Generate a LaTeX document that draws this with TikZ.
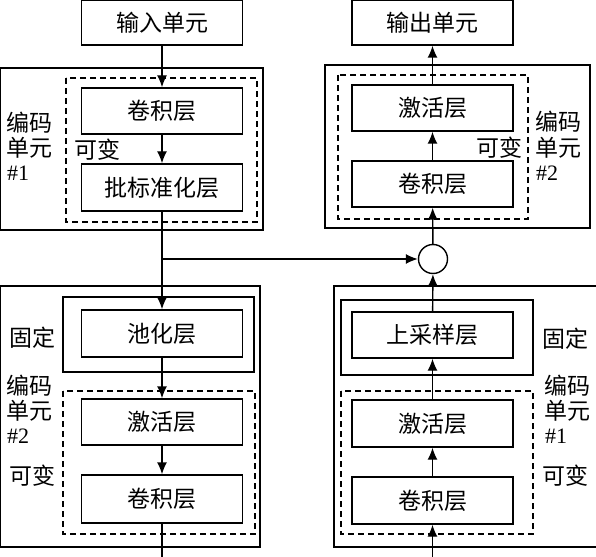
\documentclass[tikz,border=0pt]{standalone}
\usepackage{fontspec}
\setmainfont{Liberation Serif}
\newfontfamily\cjk{Noto Sans CJK SC}
\usetikzlibrary{arrows.meta}
\tikzset{
  layer/.style={draw, line width=1.4pt, minimum width=161pt, inner sep=0pt, font=\cjk\fontsize{23}{26}\selectfont},
  frame/.style={draw, line width=1.4pt},
  dframe/.style={draw, line width=1.4pt, dash pattern=on 6pt off 4pt},
  lbl/.style={inner sep=0pt, font=\cjk\fontsize{23}{26}\selectfont},
  num/.style={inner sep=0pt, font=\fontsize{22}{26}\selectfont},
  arr/.style={line width=1.4pt, -{Latex[length=12pt,width=10pt]}},
  ln/.style={line width=1.4pt},
  sumc/.style={draw, circle, line width=1.4pt, minimum size=29pt, inner sep=0pt}
}
\begin{document}
\begin{tikzpicture}[x=1pt,y=-1pt]
\useasboundingbox (0,0) rectangle (596,556);
% frames
\draw[frame] (0,68) rectangle (263,230);
\draw[dframe] (66,78) rectangle (257,222);
\draw[frame] (325,65) rectangle (590,228);
\draw[dframe] (338,75) rectangle (528,219);
\draw[frame] (0,286) rectangle (260,547);
\draw[frame] (63,297) rectangle (254,372);
\draw[dframe] (63,391) rectangle (255,534);
\draw[frame] (334,286) rectangle (605,547);
\draw[frame] (341,300) rectangle (533,375);
\draw[dframe] (341,391) rectangle (533,534);
% left column
\node[layer, minimum height=45pt] (in) at (162,22.5) {输入单元};
\node[layer, minimum height=46pt] (conv1) at (162,111) {卷积层};
\node[layer, minimum height=47pt] (bn) at (162,187.5) {批标准化层};
\node[layer, minimum height=47pt] (pool) at (162,333.5) {池化层};
\node[layer, minimum height=46pt] (act2) at (162,422) {激活层};
\node[layer, minimum height=48pt] (conv2) at (162,499) {卷积层};
% right column
\node[layer, minimum height=45pt] (out) at (432.5,22.5) {输出单元};
\node[layer, minimum height=46pt] (actR) at (432.5,108) {激活层};
\node[layer, minimum height=46pt] (convR) at (432.5,184) {卷积层};
\node[sumc] (sum) at (433,259) {};
\node[layer, minimum height=46pt] (up) at (432.5,335) {上采样层};
\node[layer, minimum height=47pt] (actR1) at (432.5,423.5) {激活层};
\node[layer, minimum height=47pt] (convR1) at (432.5,500.5) {卷积层};
% labels
\node[lbl, anchor=west] (l1a) at (6,123) {编码};
\node[lbl, anchor=west] (l1b) at (6,148) {单元};
\node[num, anchor=west] (l1c) at (7,173) {\#1};
\node[lbl] (l1d) at (97,150) {可变};
\node[lbl, anchor=west] (r2a) at (535,122) {编码};
\node[lbl, anchor=west] (r2b) at (535,148) {单元};
\node[num, anchor=west] (r2c) at (536,173) {\#2};
\node[lbl] (r2d) at (499,148) {可变};
\node[lbl, anchor=west] (l2a) at (9,338) {固定};
\node[lbl, anchor=west] (l2b) at (6,386) {编码};
\node[lbl, anchor=west] (l2c) at (6,411) {单元};
\node[num, anchor=west] (l2d) at (7,436) {\#2};
\node[lbl, anchor=west] (l2e) at (9,476) {可变};
\node[lbl, anchor=west] (r1a) at (542,339) {固定};
\node[lbl, anchor=west] (r1b) at (544,386) {编码};
\node[lbl, anchor=west] (r1c) at (544,411) {单元};
\node[num, anchor=west] (r1d) at (545,436) {\#1};
\node[lbl, anchor=west] (r1e) at (542,476) {可变};
% connectors left
\coordinate (br) at (162,259);
\coordinate (lbot) at (162,560);
\coordinate (rbot) at (432.5,560);
\draw[arr] (in) -- (conv1);
\draw[arr] (conv1) -- (bn);
\draw[arr] (bn) -- (pool);
\draw[arr] (pool) -- (act2);
\draw[arr] (act2) -- (conv2);
\draw[ln] (conv2) -- (lbot);
\draw[arr] (br) -- (sum.west);
% connectors right
\draw[arr] (rbot) -- (convR1);
\draw[arr] (convR1) -- (actR1);
\draw[arr] (actR1) -- (up);
\draw[arr] (up) -- (sum);
\draw[arr] (sum) -- (convR);
\draw[arr] (convR) -- (actR);
\draw[arr] (actR) -- (out);
\end{tikzpicture}
\end{document}
